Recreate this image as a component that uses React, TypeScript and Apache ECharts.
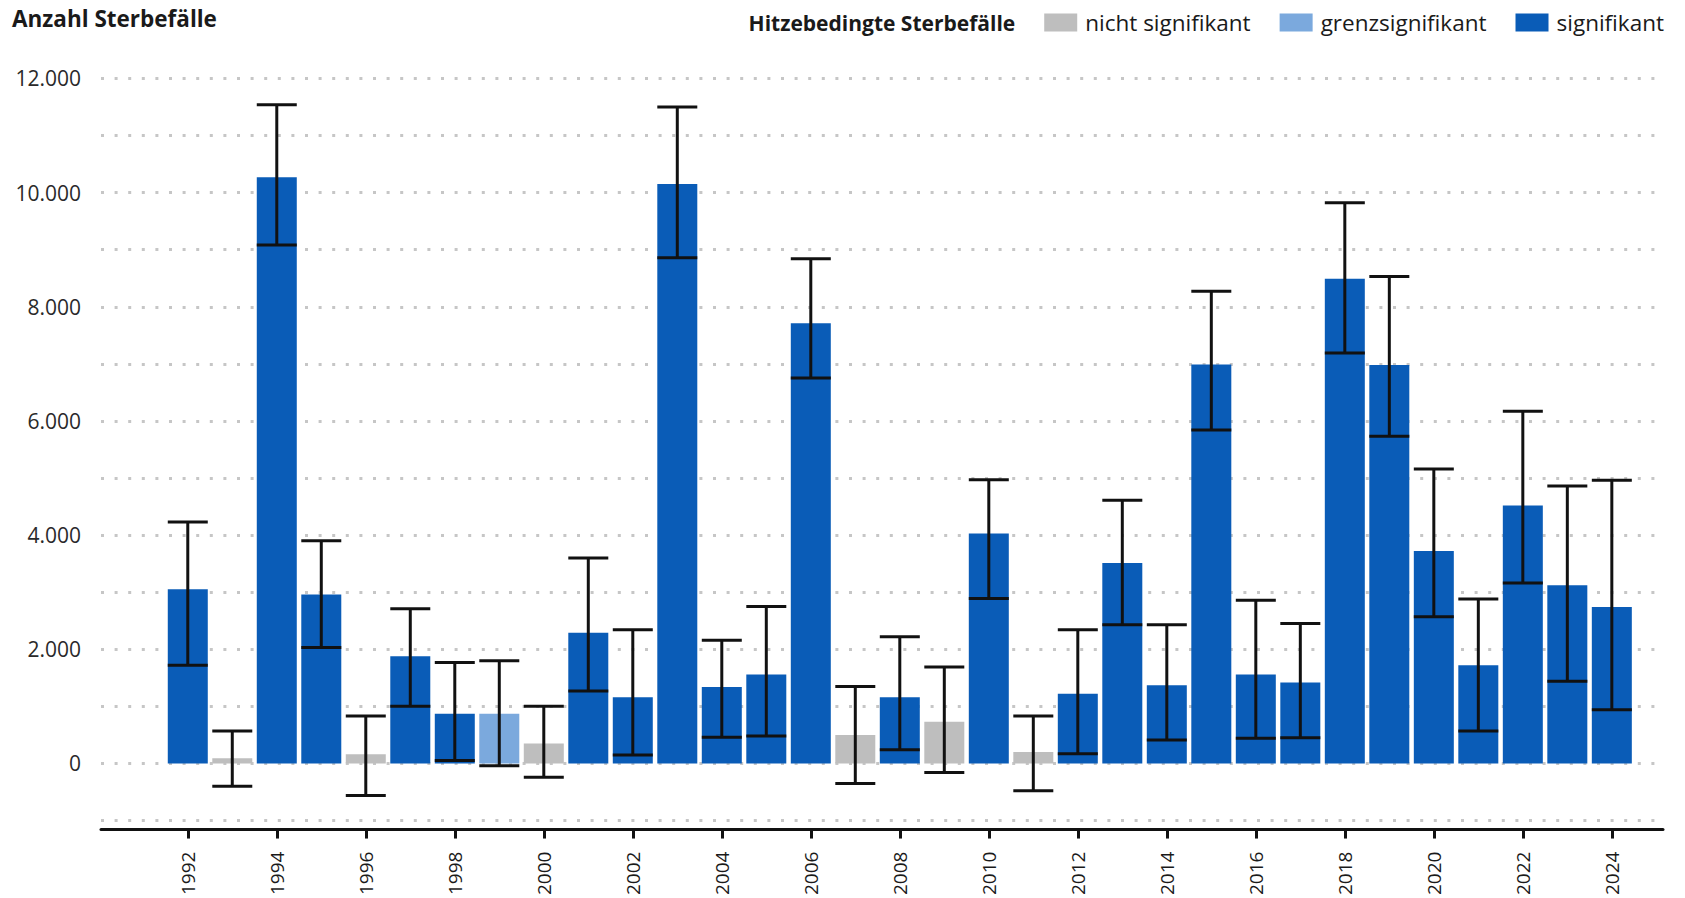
import React, { useEffect, useRef } from "react";
import * as echarts from "echarts";

// Heat-related deaths per year: estimate with 95% interval and significance class
const years = [
  1992, 1993, 1994, 1995, 1996, 1997, 1998, 1999, 2000, 2001, 2002,
  2003, 2004, 2005, 2006, 2007, 2008, 2009, 2010, 2011, 2012, 2013,
  2014, 2015, 2016, 2017, 2018, 2019, 2020, 2021, 2022, 2023, 2024,
];
const deaths = [
  3050, 90, 10270, 2960, 160, 1880, 870, 870, 350, 2290, 1160,
  10150, 1340, 1560, 7710, 500, 1160, 730, 4030, 200, 1220, 3510,
  1370, 6990, 1560, 1420, 8490, 6980, 3720, 1720, 4520, 3120, 2740,
];
const upper = [
  4230, 570, 11540, 3900, 830, 2710, 1770, 1800, 1000, 3600, 2340,
  11500, 2160, 2750, 8840, 1350, 2220, 1690, 4970, 830, 2340, 4610,
  2430, 8270, 2860, 2450, 9820, 8530, 5160, 2880, 6170, 4860, 4960,
];
const lower = [
  1720, -400, 9080, 2030, -560, 1000, 50, -40, -240, 1270, 150,
  8860, 460, 480, 6750, -350, 240, -160, 2890, -480, 170, 2430,
  410, 5840, 440, 450, 7190, 5730, 2570, 570, 3160, 1440, 940,
];
// n = nicht signifikant, g = grenzsignifikant, s = signifikant
const significance = [
  "s", "n", "s", "s", "n", "s", "s", "g", "n", "s", "s",
  "s", "s", "s", "s", "n", "s", "n", "s", "n", "s", "s",
  "s", "s", "s", "s", "s", "s", "s", "s", "s", "s", "s",
];
const classes = [
  { key: "n", name: "nicht signifikant", color: "#BEBEBE" },
  { key: "g", name: "grenzsignifikant", color: "#7BA9DD" },
  { key: "s", name: "signifikant", color: "#0A5CB7" },
];
const yearTicks = [
  1992, 1994, 1996, 1998, 2000, 2002, 2004, 2006, 2008, 2010, 2012,
  2014, 2016, 2018, 2020, 2022, 2024,
];
const legendTitle = "Hitzebedingte Sterbefälle";
const yTitle = "Anzahl Sterbefälle";

const FONT = "'Open Sans', 'Noto Sans', sans-serif";
const BAR_W = 40;

const fmtThousands = (v: number) =>
  String(v).replace(/\B(?=(\d{3})+(?!\d))/g, ".");

export default function App() {
  const ref = useRef<HTMLDivElement>(null);

  useEffect(() => {
    document.body.style.margin = "0";
    document.body.style.overflow = "hidden";
    if (!ref.current) return;
    const chart = echarts.init(ref.current, undefined, { renderer: "svg" });

    const barSeries = classes.map((c) => ({
      name: c.name,
      type: "bar",
      barWidth: BAR_W,
      barGap: "-100%",
      itemStyle: { color: c.color },
      data: years
        .map((y, i) => (significance[i] === c.key ? [y, deaths[i]] : null))
        .filter((d) => d !== null),
      z: 2,
    }));

    const errorData = years.map((y, i) => [y, lower[i], upper[i]]);

    chart.setOption({
      animation: false,
      textStyle: { fontFamily: FONT },
      title: [
        {
          text: yTitle,
          left: 12,
          top: 7,
          padding: 0,
          textStyle: {
            fontFamily: FONT,
            fontSize: 22.5,
            fontWeight: "bold",
            color: "#1a1a1a",
          },
        },
      ],
      legend: {
        right: 21,
        top: 11,
        padding: 0,
        itemWidth: 33,
        itemHeight: 18,
        itemGap: 29,
        selectedMode: false,
        textStyle: {
          fontFamily: FONT,
          fontSize: 22.5,
          color: "#1a1a1a",
          padding: [0, 0, 0, 3],
        },
        data: [
          {
            name: legendTitle,
            icon: "none",
            textStyle: { fontWeight: "bold", fontSize: 21 },
          },
          ...classes.map((c) => ({ name: c.name, icon: "rect" })),
        ],
      },
      grid: { left: 101, right: 22, top: 78.4, bottom: 76.6 },
      xAxis: {
        type: "value",
        min: 1990.05,
        max: 2025.15,
        offset: 9,
        splitLine: { show: false },
        axisLine: {
          show: true,
          onZero: false,
          lineStyle: { color: "#111", width: 3 },
        },
        axisTick: {
          show: true,
          customValues: yearTicks,
          length: 9,
          lineStyle: { color: "#111", width: 3 },
        },
        axisLabel: {
          customValues: yearTicks,
          rotate: 90,
          margin: 22,
          fontFamily: FONT,
          fontSize: 19,
          color: "#1a1a1a",
          formatter: (v: number) => String(v),
        },
      },
      yAxis: {
        type: "value",
        min: -1000,
        max: 12000,
        interval: 1000,
        axisLine: { show: false },
        axisTick: { show: false },
        splitLine: {
          show: true,
          lineStyle: { color: "#c6c6c6", width: 3, type: [3, 10.6] },
        },
        axisLabel: {
          margin: 20,
          fontFamily: FONT,
          fontSize: 21,
          color: "#2a2a2a",
          formatter: (v: number) =>
            v >= 0 && v % 2000 === 0 ? fmtThousands(v) : "",
        },
      },
      series: [
        { name: legendTitle, type: "line", data: [] },
        ...barSeries,
        {
          name: "Konfidenzintervall",
          type: "custom",
          z: 5,
          encode: { x: 0, y: [1, 2] },
          data: errorData,
          renderItem: (params: any, api: any) => {
            const x = api.value(0);
            const lo = api.coord([x, api.value(1)]);
            const hi = api.coord([x, api.value(2)]);
            const half = BAR_W / 2;
            const style = { stroke: "#111", lineWidth: 3 };
            return {
              type: "group",
              children: [
                {
                  type: "line",
                  shape: { x1: hi[0], y1: hi[1], x2: lo[0], y2: lo[1] },
                  style,
                },
                {
                  type: "line",
                  shape: { x1: hi[0] - half, y1: hi[1], x2: hi[0] + half, y2: hi[1] },
                  style,
                },
                {
                  type: "line",
                  shape: { x1: lo[0] - half, y1: lo[1], x2: lo[0] + half, y2: lo[1] },
                  style,
                },
              ],
            };
          },
        },
      ],
    });

    return () => chart.dispose();
  }, []);

  return <div ref={ref} style={{ width: 1685, height: 898 }} />;
}
